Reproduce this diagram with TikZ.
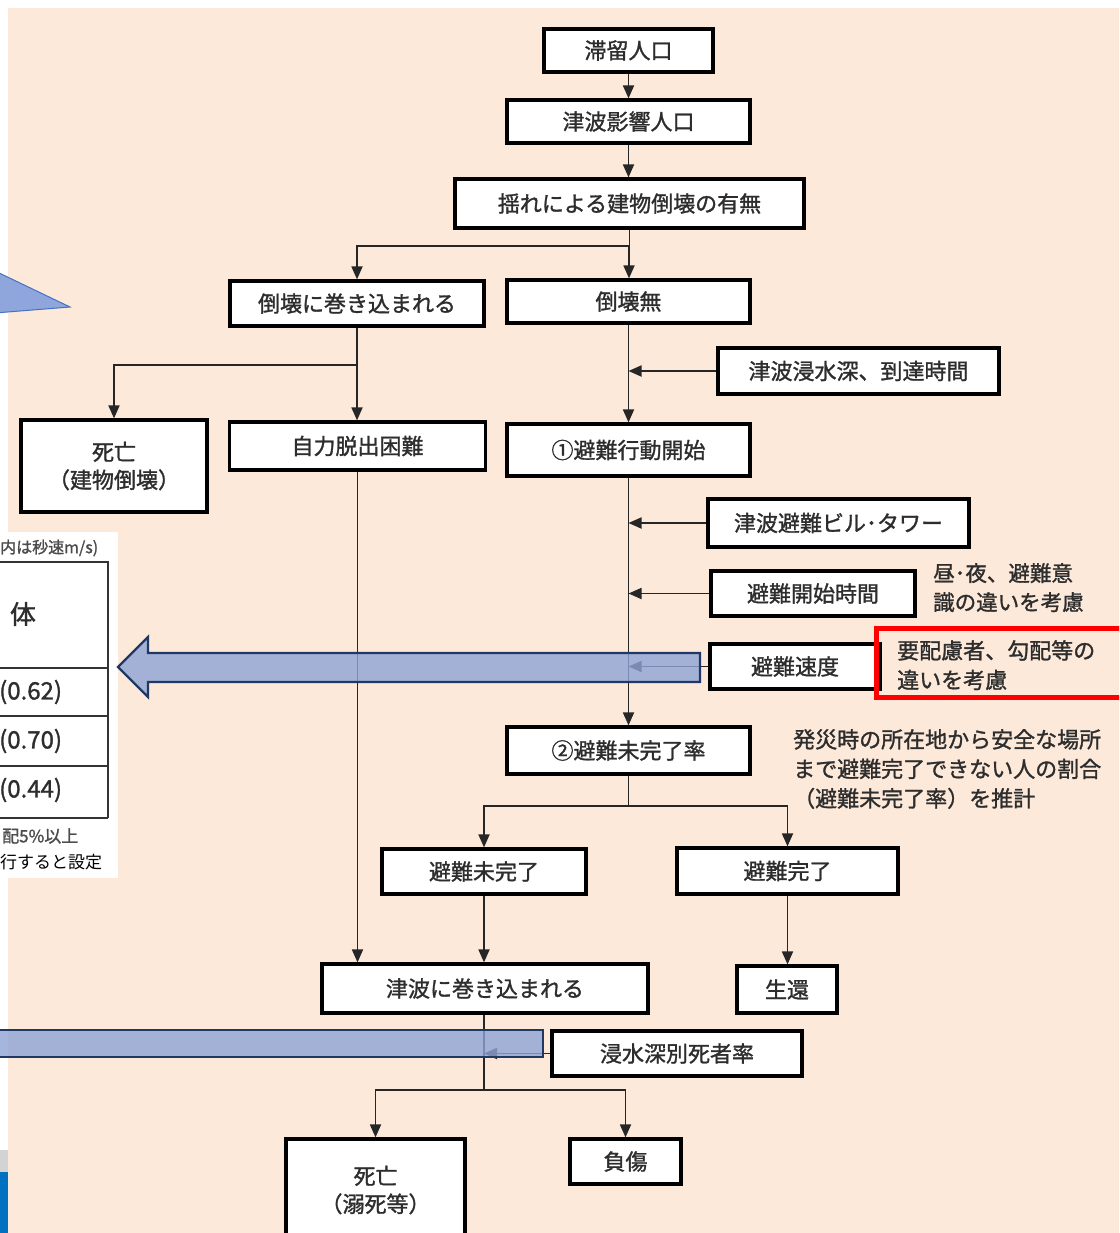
\documentclass[tikz,border=0pt]{standalone}
\usepackage{fontspec}
\newfontfamily\jp[AutoFakeBold=1.3]{Noto Sans CJK JP}
\usetikzlibrary{arrows.meta}
\definecolor{bg}{RGB}{252,233,218}
\definecolor{txt}{RGB}{45,45,45}
\definecolor{bluef}{RGB}{143,163,214}
\definecolor{navy}{RGB}{31,56,100}
\definecolor{tri}{RGB}{143,166,220}
\definecolor{triline}{RGB}{68,114,196}
\definecolor{sidegrey}{RGB}{211,211,211}
\definecolor{sideblue}{RGB}{0,112,192}
\begin{document}
\begin{tikzpicture}[x=1pt,y=-1pt,
  box/.style={draw=black,line width=3.2pt,fill=white,inner sep=0pt,font=\jp\bfseries\fontsize{22}{28}\selectfont,text=txt,align=center},
  conn/.style={line width=1.8pt,draw=black!85},
  arr/.style={conn,-{Triangle[length=13pt,width=11pt]}},
  note/.style={font=\jp\bfseries\fontsize{22}{29.5}\selectfont,text=txt,align=left,inner sep=0pt,anchor=north west},
  tbltxt/.style={font=\jp\bfseries\fontsize{24}{26}\selectfont,text=txt,inner sep=0pt,anchor=west},
  tblline/.style={line width=2.2pt,draw=black!80},
  bigarrow/.style={draw=navy,line width=2.2pt,fill=bluef,fill opacity=0.8}
]
\useasboundingbox (0,0) rectangle (1119,1233);
\clip (0,0) rectangle (1119,1233);
\fill[white] (0,0) rectangle (1119,1233);
\fill[bg] (8,8) rectangle (1119,1233);
\fill[sidegrey] (0,1150) rectangle (8,1172);
\fill[sideblue] (0,1172) rectangle (8,1233);

% left triangle
\draw[triline,line width=1pt,fill=tri] (-5,271) -- (70,307) -- (-5,313) -- cycle;

% table fragment
\fill[white] (0,532) rectangle (118,878);
\node[font=\jp\bfseries\fontsize{16}{18}\selectfont,text=black!70,inner sep=0pt,anchor=west] (thead) at (0,548) {内は秒速m/s)};
\draw[tblline] (0,562) -- (108,562) -- (108,818);
\draw[tblline] (0,668) -- (108,668);
\draw[tblline] (0,716) -- (108,716);
\draw[tblline] (0,766) -- (108,766);
\draw[tblline] (0,818) -- (108,818);
\node[font=\jp\bfseries\fontsize{26}{28}\selectfont,text=txt,inner sep=0pt] (tall) at (23,614) {体};
\node[tbltxt] (t1) at (-1,692) {(0.62)};
\node[tbltxt] (t2) at (-1,741) {(0.70)};
\node[tbltxt] (t3) at (-1,790) {(0.44)};
\node[font=\jp\bfseries\fontsize{17}{18}\selectfont,text=black!70,inner sep=0pt,anchor=west] (tnote1) at (2,836) {配5\%以上};
\node[font=\jp\fontsize{17}{18}\selectfont,text=black,inner sep=0pt,anchor=west] (tnote2) at (0,862) {行すると設定};

% boxes
\node[box,minimum width=169pt,minimum height=43pt] (n1) at (628.5,50.5) {滞留人口};
\node[box,minimum width=243pt,minimum height=43pt] (n2) at (628.5,121.5) {津波影響人口};
\node[box,minimum width=349pt,minimum height=49pt] (n3) at (629.5,203.5) {揺れによる建物倒壊の有無};
\node[box,minimum width=254pt,minimum height=45pt] (n4) at (357,303.5) {倒壊に巻き込まれる};
\node[box,minimum width=243pt,minimum height=43pt] (n5) at (628.5,301.5) {倒壊無};
\node[box,minimum width=281pt,minimum height=46pt] (n6) at (858.5,371) {津波浸水深、到達時間};
\node[box,minimum width=186pt,minimum height=92pt] (n7) at (114,466) {死亡\\（建物倒壊）};
\node[box,minimum width=256pt,minimum height=48pt] (n8) at (357.5,446) {自力脱出困難};
\node[box,minimum width=243pt,minimum height=52pt] (n9) at (628.5,450) {①避難行動開始};
\node[box,minimum width=261pt,minimum height=48pt] (n10) at (838.5,523) {津波避難ビル･タワー};
\node[box,minimum width=204pt,minimum height=45pt] (n11) at (813,593.5) {避難開始時間};
\node[box,minimum width=170pt,minimum height=45pt] (n12) at (795,666.5) {避難速度};
\node[box,minimum width=243pt,minimum height=47pt] (n13) at (628.5,750.5) {②避難未完了率};
\node[box,minimum width=204pt,minimum height=45pt] (n14) at (484,871.5) {避難未完了};
\node[box,minimum width=221pt,minimum height=46pt] (n15) at (787.5,871) {避難完了};
\node[box,minimum width=326pt,minimum height=49pt] (n16) at (485,988.5) {津波に巻き込まれる};
\node[box,minimum width=100pt,minimum height=47pt] (n17) at (787,989.5) {生還};
\node[box,minimum width=250pt,minimum height=45pt] (n18) at (677,1053.5) {浸水深別死者率};
\node[box,minimum width=179pt,minimum height=102pt] (n19) at (375.5,1190) {死亡\\（溺死等）};
\node[box,minimum width=111pt,minimum height=45pt] (n20) at (625.5,1161.5) {負傷};

% notes
\node[note,font=\jp\bfseries\fontsize{21.5}{29}\selectfont] (c1) at (933,563) {昼･夜、避難意\\識の違いを考慮};
\node[note] (c2) at (793,729) {発災時の所在地から安全な場所\\まで避難完了できない人の割合\\（避難未完了率）を推計};
\node[note] (c3) at (897,640) {要配慮者、勾配等の\\違いを考慮};
\draw[red,line width=5pt] (876,628) rectangle (1130,697);

% connectors
\draw[arr] (n1.south) -- (n1.south |- n2.north);
\draw[arr] (n2.south) -- (n2.south |- n3.north);
\coordinate (b1) at (629,246);
\draw[conn] (n3.south) -- (n3.south |- b1);
\draw[arr] (n3.south |- b1) -| (n4.north);
\draw[arr] (b1) -- (b1 |- n5.north);
\coordinate (b2) at (357,365);
\draw[conn] (n4.south) -- (b2);
\draw[arr] (b2) -| (n7.north);
\draw[arr] (b2) -- (b2 |- n8.north);
\draw[arr] (n5.south) -- (n5.south |- n9.north);
\draw[arr] (n6.west) -- (n6.west -| n5.south);
\draw[arr] (n8.south) -- (n8.south |- n16.north);
\draw[arr] (n9.south) -- (n9.south |- n13.north);
\draw[arr] (n10.west) -- (n10.west -| n9.south);
\draw[arr] (n11.west) -- (n11.west -| n9.south);
\draw[arr] (n12.west) -- (n12.west -| n9.south);
\coordinate (b3) at (628.5,806);
\draw[conn] (n13.south) -- (b3);
\draw[arr] (b3) -| (n14.north);
\draw[arr] (b3) -| (n15.north);
\draw[arr] (n14.south) -- (n14.south |- n16.north);
\draw[arr] (n15.south) -- (n15.south |- n17.north);
\coordinate (b4) at (484,1090);
\draw[conn] (n14.south |- n16.south) -- (b4);
\draw[arr] (b4) -| (n19.north);
\draw[arr] (b4) -| (n20.north);
\draw[arr] (n18.west) -- (n18.west -| b4);

% big overlay arrows
\draw[bigarrow] (700,653) -- (148,653) -- (148,637) -- (118,667) -- (148,697) -- (148,682) -- (700,682) -- cycle;
\draw[bigarrow] (-5,1030) rectangle (543,1057);
\end{tikzpicture}
\end{document}
